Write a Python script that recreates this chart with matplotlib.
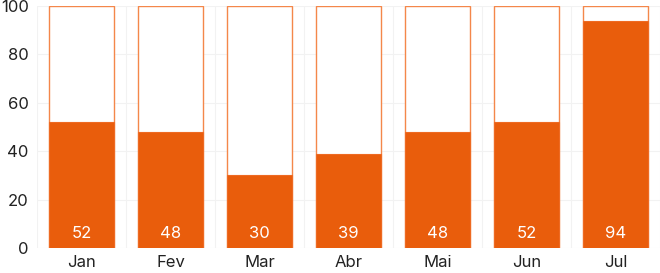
import matplotlib
matplotlib.use("Agg")
import matplotlib.pyplot as plt

# dados do gráfico
meses = ["Jan", "Fev", "Mar", "Abr", "Mai", "Jun", "Jul"]
valores = [52, 48, 30, 39, 48, 52, 94]
total = [100] * len(meses)

COR = "#E95D0C"
BORDA = "#F4874A"

plt.rcParams['font.family'] = ['Inter', 'DejaVu Sans']

fig = plt.figure(figsize=(6.6, 2.73), dpi=100)
ax = fig.add_axes([37 / 660, 1 - 248 / 273, 1 - 37 / 660, (248 - 6) / 273])

x = range(len(meses))
larg = 0.73
ax.bar(x, total, width=larg, color="white", edgecolor=BORDA, linewidth=1.0, zorder=2)
ax.bar(x, valores, width=larg, color=COR, edgecolor="#EE6A22", linewidth=0.8, zorder=3)

for i, v in zip(x, valores):
    ax.text(i, 6, str(v), color="white", ha="center", va="center", fontsize=12, zorder=4)

ax.set_xlim(-0.5, len(meses) - 0.5)
ax.set_ylim(0, 100)
ax.set_yticks(range(0, 101, 20))
ax.set_xticks(list(x))
ax.set_xticklabels(meses)

# grades verticais entre as categorias
ax.set_xticks([i - 0.5 for i in range(len(meses) + 1)], minor=True)
ax.grid(True, which="minor", axis="x", color="#f2f2f2", linewidth=0.8, zorder=0)
ax.grid(True, which="major", axis="y", color="#f2f2f2", linewidth=0.8, zorder=0)

for s in ax.spines.values():
    s.set_visible(False)
ax.tick_params(axis="both", which="both", length=0, labelsize=12, colors="#222222")
ax.tick_params(axis="x", pad=5)
ax.tick_params(axis="y", pad=6)

fig.savefig("out.png", dpi=100)
